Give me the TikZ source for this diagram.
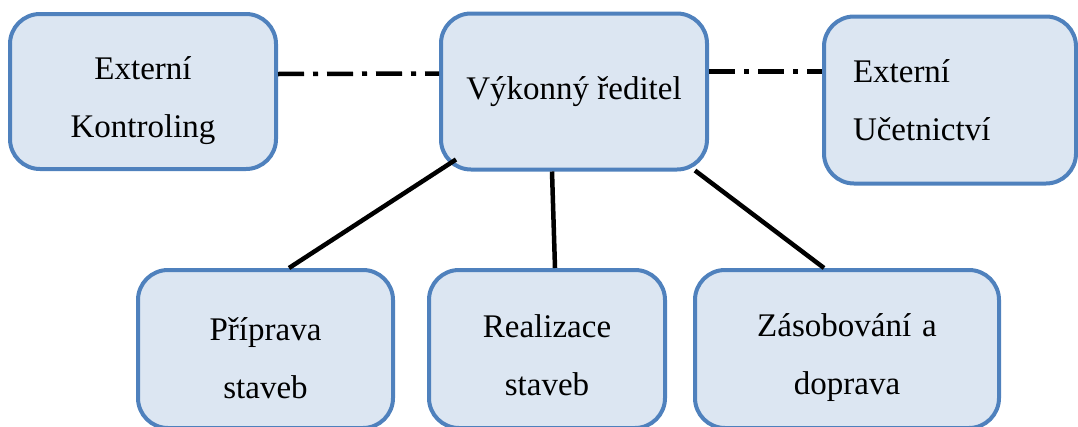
\documentclass[tikz,border=0pt]{standalone}
\usepackage{fontspec}
\setmainfont{Liberation Serif}
\usetikzlibrary{positioning}
\definecolor{boxblue}{RGB}{79,129,189}
\definecolor{boxfill}{RGB}{220,230,242}

\tikzset{
  unit/.style={draw=boxblue, fill=boxfill, line width=4pt, rounded corners=30pt,
    align=center, inner sep=0pt, font=\fontsize{33}{58}\selectfont},
  lowtext/.style={execute at begin node={\rule{0pt}{#1}}},
  dashdot link/.style={line width=4.5pt, dash pattern=on 26pt off 9pt on 5pt off 9pt},
  link/.style={line width=4.5pt}
}

\begin{document}
\begin{tikzpicture}[x=1pt, y=-1pt, node distance=431pt]
        \useasboundingbox (0,0) rectangle (1078,426);
        % top row
        \node[unit, minimum width=266pt, minimum height=155pt, text width=246pt, lowtext=42pt] (kontrol) at (143,91.5) {Externí\\Kontroling};
        \node[unit, minimum width=266pt, minimum height=156pt] (reditel) [right of=kontrol] {Výkonný ředitel};
        \node[unit, minimum width=252pt, minimum height=167pt, text width=194pt, inner xsep=29pt, align=left]
              (ucet) [right of=reditel, node distance=376pt, yshift=-8.5pt] {Externí\\Učetnictví};
        % bottom row
        \node[unit, minimum width=255pt, minimum height=158pt, text width=235pt, lowtext=41pt] (priprava) at (265.5,349) {Příprava\\staveb};
        \node[unit, minimum width=236pt, minimum height=158pt, text width=216pt, lowtext=35pt] (realizace) [right of=priprava, node distance=281.5pt] {Realizace\\staveb};
        \node[unit, minimum width=304pt, minimum height=158pt, text width=284pt, lowtext=41pt] (zasob) [right of=realizace, node distance=300pt] {Zásobování a\\doprava};
        \path;
        \draw[dashdot link] ([yshift=17.5pt]kontrol.east) -- ([yshift=18pt]reditel.west);
        \draw[dashdot link] ([yshift=20pt]reditel.east) -- ([yshift=28.5pt]ucet.west);
        \draw[link] ([shift={(17pt,12pt)}]reditel.south west) -- ([xshift=23.5pt]priprava.north);
        \draw[link] ([xshift=-22pt]reditel.south) -- ([xshift=8pt]realizace.north);
        \draw[link] ([shift={(-14pt,1pt)}]reditel.south east) -- ([xshift=-23pt]zasob.north);
  \end{tikzpicture}
\end{document}
